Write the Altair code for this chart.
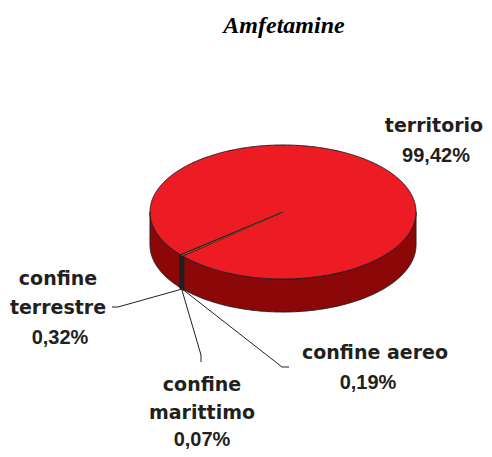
import altair as alt
import pandas as pd
import math

# ---------------- data ----------------
title_text = "Amfetamine"
categories = ["territorio", "confine terrestre", "confine marittimo", "confine aereo"]
values = [99.42, 0.32, 0.07, 0.19]
label_lines = [["territorio"], ["confine", "terrestre"], ["confine", "marittimo"], ["confine aereo"]]
colors = ["#ED1C24", "#231F20", "#F7941D", "#231F20"]

# ---------------- layout / style ----------------
CX, CY, A, B, D = 283, 212, 133, 67, 33   # ellipse centre, semi-axes, depth (px)
ROT = 230.6                               # start angle of first slice (deg, clockwise from 12 o'clock)
SIDE = "#8C0707"
EDGE = "#231F20"
TEXT = "#231F20"
W, H = 476, 441

LABEL_X = {"territorio": [434, 436], "confine terrestre": [58, 58, 60],
           "confine marittimo": [202, 202, 202], "confine aereo": [375, 368]}
LABEL_Y = {"territorio": [132, 162], "confine terrestre": [285, 314, 344],
           "confine marittimo": [391, 419, 446], "confine aereo": [359, 389]}
LEADER = {"confine terrestre": [(118, 307), (112, 307)],
          "confine marittimo": [(201, 355), (201, 362)],
          "confine aereo": [(282, 367), (289, 367)]}
TITLE_POS = (284, 33)

xs = alt.Scale(domain=[8, 8 + W], nice=False, zero=False)
ys = alt.Scale(domain=[8, 8 + H], nice=False, zero=False, reverse=True)


def X(f):
    return alt.X(f, type="quantitative", scale=xs, axis=None)


def Y(f):
    return alt.Y(f, type="quantitative", scale=ys, axis=None)


total = sum(values)
cum = 0
mids, starts, ends = [], [], []
for v in values:
    starts.append(ROT + cum / total * 360)
    cum += v
    ends.append(ROT + cum / total * 360)
    mids.append((starts[-1] + ends[-1]) / 2)

# ---------------- side of the cake ----------------
side = alt.Chart(alt.sequence(90, 270.01, 0.5, as_="phi")).transform_calculate(
    px=f"{CX} + {A} * sin(datum.phi * PI / 180)",
    py=f"{CY} - {B} * cos(datum.phi * PI / 180)",
    py2=f"{CY} - {B} * cos(datum.phi * PI / 180) + {D}",
).mark_area(fill=SIDE, stroke=EDGE, strokeWidth=1).encode(x=X("px"), y=Y("py"), y2="py2:Q")

band = alt.Chart(alt.sequence(ends[0], ends[-1] + 0.001, 0.05, as_="phi")).transform_calculate(
    px=f"{CX} + {A} * sin(datum.phi * PI / 180)",
    py=f"{CY} - {B} * cos(datum.phi * PI / 180)",
    py2=f"{CY} - {B} * cos(datum.phi * PI / 180) + {D}",
).mark_area(fill=colors[1], stroke=EDGE, strokeWidth=2.2).encode(x=X("px"), y=Y("py"), y2="py2:Q")

top = alt.Chart(alt.sequence(-90, 90.01, 0.5, as_="th")).transform_calculate(
    px=f"{CX} + {A} * sin(datum.th * PI / 180)",
    py=f"{CY} - {B} * cos(datum.th * PI / 180)",
    py2=f"{CY} + {B} * cos(datum.th * PI / 180)",
).mark_area(fill=colors[0], stroke=EDGE, strokeWidth=1).encode(x=X("px"), y=Y("py"), y2="py2:Q")

# ---------------- thin slices on the top face ----------------
slices = pd.DataFrame({"category": categories, "value": values, "idx": list(range(len(values)))})
rules = alt.Chart(slices).transform_joinaggregate(total="sum(value)").transform_window(
    cum="sum(value)", sort=[alt.SortField("idx")], frame=[None, 0]
).transform_calculate(
    mid=f"{ROT} + (datum.cum - datum.value / 2) / datum.total * 360",
    x0=f"{CX}", y0=f"{CY}",
).transform_calculate(
    x1=f"{CX} + {A} * sin(datum.mid * PI / 180)",
    y1=f"{CY} - {B} * cos(datum.mid * PI / 180)",
).transform_filter("datum.idx > 0").mark_rule(strokeWidth=1.3).encode(
    x=X("x0"), y=Y("y0"), x2="x1:Q", y2="y1:Q",
    color=alt.Color("category:N", scale=alt.Scale(domain=categories, range=colors), legend=None),
)

# ---------------- leader lines ----------------
rows = []
for i, c in enumerate(categories):
    if c not in LEADER:
        continue
    m = math.radians(mids[i])
    rows.append({"category": c, "k": 0, "px": CX + A * math.sin(m), "py": CY - B * math.cos(m) + D})
    for k, (lx, ly) in enumerate(LEADER[c], start=1):
        rows.append({"category": c, "k": k, "px": lx, "py": ly})
leaders = alt.Chart(pd.DataFrame(rows)).mark_line(color=EDGE, strokeWidth=1).encode(
    x=X("px"), y=Y("py"), detail="category:N", order="k:Q"
)

# ---------------- labels ----------------
name_rows, pct_rows = [], []
for c, v, lines in zip(categories, values, label_lines):
    xs_, ys_ = LABEL_X[c], LABEL_Y[c]
    for j, t in enumerate(lines):
        name_rows.append({"t": t, "px": xs_[j], "py": ys_[j]})
    pct_rows.append({"t": f"{v:.2f}".replace(".", ",") + "%", "px": xs_[len(lines)], "py": ys_[len(lines)]})

names = alt.Chart(pd.DataFrame(name_rows)).mark_text(
    font="DejaVu Sans", fontWeight="bold", fontSize=19, color=TEXT, align="center", baseline="alphabetic"
).encode(x=X("px"), y=Y("py"), text="t:N")

pcts = alt.Chart(pd.DataFrame(pct_rows)).mark_text(
    font="Liberation Sans", fontWeight="bold", fontSize=20, color=TEXT, align="center", baseline="alphabetic"
).encode(x=X("px"), y=Y("py"), text="t:N")

title = alt.Chart(pd.DataFrame({"t": [title_text], "px": [TITLE_POS[0]], "py": [TITLE_POS[1]]})).mark_text(
    font="Liberation Serif", fontWeight="bold", fontStyle="italic", fontSize=24, color="#000000",
    align="center", baseline="alphabetic"
).encode(x=X("px"), y=Y("py"), text="t:N")

chart = alt.layer(side, band, top, rules, leaders, names, pcts, title).properties(
    width=W, height=H, padding=0, autosize="none"
).configure_view(strokeWidth=0)

chart.save("out.html", embed_options={"renderer": "svg", "actions": False})
